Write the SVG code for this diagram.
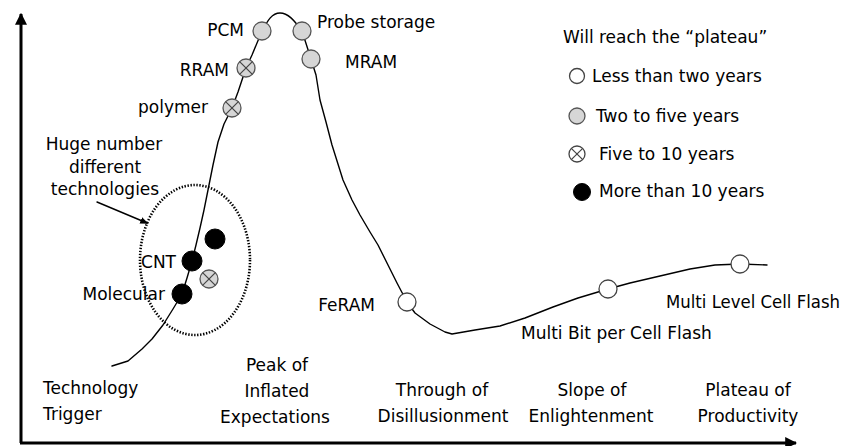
<svg xmlns="http://www.w3.org/2000/svg" width="844" height="446" viewBox="0 0 844 446">
<defs>
<style>
text{font-family:"DejaVu Sans","Liberation Sans",sans-serif;font-size:17px;fill:#000}
.c{text-anchor:middle}
.curve{fill:none;stroke:#000;stroke-width:1.4;stroke-linejoin:round;stroke-linecap:round}
.axis{fill:none;stroke:#000;stroke-width:3}
.grey{fill:#d6d6d6;stroke:#555;stroke-width:1.3}
.white{fill:#fff;stroke:#444;stroke-width:1.3}
.black{fill:#000;stroke:#000;stroke-width:1}
.x{stroke:#444;stroke-width:1.2}
.dotted{fill:none;stroke:#000;stroke-width:2.6;stroke-dasharray:1.4 1.6}
</style>
<marker id="ah" viewBox="0 0 10 10" refX="9" refY="5" markerWidth="4" markerHeight="4" orient="auto"><path d="M0,0 L10,5 L0,10 Z" fill="#000"/></marker>
<marker id="sm" viewBox="0 0 10 10" refX="8" refY="5" markerWidth="6" markerHeight="6" orient="auto"><path d="M0,1 L10,5 L0,9 Z" fill="#000"/></marker>
</defs>
<rect width="844" height="446" fill="#fff"/>

<g id="axes">
<line class="axis" x1="21" y1="443" x2="21" y2="14" marker-end="url(#ah)"/>
<line class="axis" x1="20" y1="443" x2="796" y2="443" marker-end="url(#ah)"/>
</g>

<g id="connectors">
<path class="curve" d="M112,366 L128,361 L142,349 L152,339 L163,325 L173,309 L182,294 L187,278 L192,261 L196,245 L200,228 L204,210 L208,190 L213,165 L218,142 L224,124 L232,108 L238,92 L246,68 L252,55 L262,31"/>
<path class="curve" d="M262,31 C268,20 272,13 280,13 C288,13 294,20 302,31"/>
<path class="curve" d="M302,31 L311,59 L316,75 L320,100 L326,122 L332,145 L343,180 L352,200 L360,215 L370,232 L378,245 L388,265 L397,283 L407,302 L415,313 L430,324 L445,332 L452,334 L475,330 L500,326 L525,318 L553,307 L578,298 L608,289 L630,283 L660,276 L690,269 L715,265 L740,264 L767,265"/>
<line class="curve" x1="97" y1="202" x2="147" y2="223" marker-end="url(#sm)"/>
</g>

<g id="cluster">
<ellipse class="dotted" cx="195" cy="260" rx="55" ry="75"/>
<text x="104" y="150" class="c">Huge number</text>
<text x="105" y="173" class="c">different</text>
<text x="105" y="195" class="c">technologies</text>
</g>

<g id="pcm"><circle class="grey" cx="262" cy="31" r="9"/><text x="244" y="36" text-anchor="end">PCM</text></g>
<g id="probe"><circle class="grey" cx="302" cy="31" r="9"/><text x="317" y="28">Probe storage</text></g>
<g id="mram"><circle class="grey" cx="311" cy="59" r="9"/><text x="345" y="68">MRAM</text></g>
<g id="rram"><circle class="grey" cx="246" cy="68" r="9"/><line class="x" x1="239.6" y1="61.6" x2="252.4" y2="74.4"/><line class="x" x1="252.4" y1="61.6" x2="239.6" y2="74.4"/><text x="229" y="76" text-anchor="end">RRAM</text></g>
<g id="polymer"><circle class="grey" cx="232" cy="108" r="9"/><line class="x" x1="225.6" y1="101.6" x2="238.4" y2="114.4"/><line class="x" x1="238.4" y1="101.6" x2="225.6" y2="114.4"/><text x="208" y="113" text-anchor="end">polymer</text></g>
<g id="cnt"><circle class="black" cx="192" cy="261" r="10"/><text x="176" y="268" text-anchor="end">CNT</text></g>
<g id="molecular"><circle class="black" cx="182" cy="294" r="10"/><text x="165" y="300" text-anchor="end">Molecular</text></g>
<g id="unlabeled-black"><circle class="black" cx="215" cy="239" r="10"/></g>
<g id="unlabeled-crossed"><circle class="grey" cx="209" cy="279" r="9"/><line class="x" x1="202.6" y1="272.6" x2="215.4" y2="285.4"/><line class="x" x1="215.4" y1="272.6" x2="202.6" y2="285.4"/></g>
<g id="feram"><circle class="white" cx="407" cy="302" r="9"/><text x="375" y="311" text-anchor="end">FeRAM</text></g>
<g id="mbc"><circle class="white" cx="608" cy="289" r="9"/><text x="521" y="339">Multi Bit per Cell Flash</text></g>
<g id="mlc"><circle class="white" cx="740" cy="264" r="9"/><text x="666" y="308" textLength="174" lengthAdjust="spacingAndGlyphs">Multi Level Cell Flash</text></g>

<g id="phases">
<text x="43" y="394">Technology</text>
<text x="43" y="420">Trigger</text>
<text x="277" y="371" class="c">Peak of</text>
<text x="277" y="397" class="c">Inflated</text>
<text x="275" y="423" class="c">Expectations</text>
<text x="442" y="396" class="c">Through of</text>
<text x="443" y="422" class="c">Disillusionment</text>
<text x="592" y="396" class="c">Slope of</text>
<text x="591" y="422" class="c">Enlightenment</text>
<text x="748" y="396" class="c">Plateau of</text>
<text x="748" y="422" class="c">Productivity</text>
</g>

<g id="legend">
<text x="563" y="43">Will reach the “plateau”</text>
<circle class="white" cx="577" cy="76" r="7.5"/><text x="592" y="82">Less than two years</text>
<circle class="grey" cx="577" cy="116" r="8"/><text x="596" y="122">Two to five years</text>
<circle class="white" cx="577" cy="154" r="8"/><line class="x" x1="571.3" y1="148.3" x2="582.7" y2="159.7"/><line class="x" x1="582.7" y1="148.3" x2="571.3" y2="159.7"/><text x="599" y="160">Five to 10 years</text>
<circle class="black" cx="582" cy="192" r="8.5"/><text x="599" y="197">More than 10 years</text>
</g>
</svg>
